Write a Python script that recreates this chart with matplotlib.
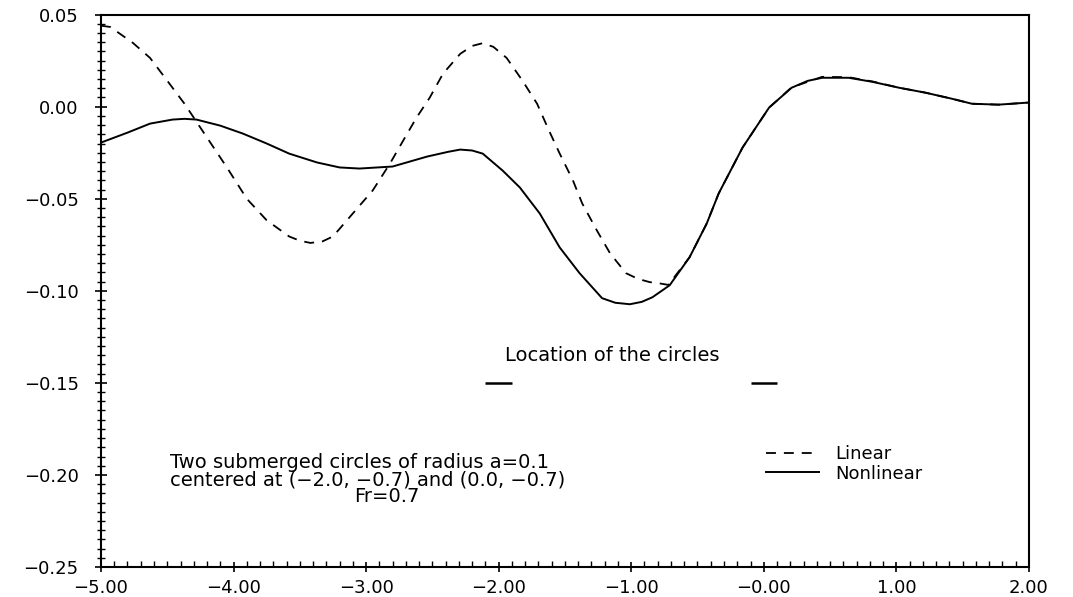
import numpy as np
import matplotlib.pyplot as plt
from matplotlib.ticker import MultipleLocator

# wave elevation over two submerged circles
lin_x = [-5.00, -4.93, -4.76, -4.63, -4.50, -4.37, -4.20, -4.05, -3.90, -3.75,
         -3.58, -3.50, -3.42, -3.33, -3.25, -3.10, -2.95, -2.82, -2.72, -2.62,
         -2.52, -2.42, -2.29, -2.20, -2.12, -2.04, -1.94, -1.82, -1.71, -1.62,
         -1.54, -1.44, -1.37, -1.26, -1.16, -1.04, -0.95, -0.86, -0.80, -0.72,
         -0.56, -0.43, -0.34, -0.16, 0.04, 0.21, 0.44, 0.64, 0.82, 1.02,
         1.22, 1.42, 1.57, 1.77, 1.99]
lin_y = [0.0440, 0.0433, 0.0347, 0.0265, 0.0141, 0.0016, -0.0168, -0.0330, -0.0500, -0.0617,
         -0.0705, -0.0728, -0.0740, -0.0732, -0.0705, -0.0580, -0.0455, -0.0309, -0.0184, -0.0060,
         0.0049, 0.0179, 0.0287, 0.0330, 0.0345, 0.0325, 0.0265, 0.0141, 0.0016, -0.0130,
         -0.0254, -0.0400, -0.0525, -0.0671, -0.0796, -0.0904, -0.0935, -0.0953, -0.0958, -0.0968,
         -0.0818, -0.0634, -0.0471, -0.0222, -0.0005, 0.0105, 0.0162, 0.0160, 0.0137, 0.0103,
         0.0076, 0.0043, 0.0016, 0.0011, 0.0022]

nl_x = [-5.00, -4.80, -4.63, -4.46, -4.37, -4.28, -4.10, -3.93, -3.75, -3.58,
        -3.37, -3.20, -3.05, -2.80, -2.54, -2.38, -2.29, -2.20, -2.12, -1.97,
        -1.84, -1.69, -1.54, -1.39, -1.22, -1.12, -1.01, -0.92, -0.84, -0.71,
        -0.56, -0.43, -0.34, -0.16, 0.04, 0.21, 0.33, 0.44, 0.64, 0.82,
        1.02, 1.22, 1.42, 1.57, 1.77, 1.99]
nl_y = [-0.0195, -0.0141, -0.0092, -0.0070, -0.0066, -0.0070, -0.0103, -0.0146, -0.0200, -0.0255,
        -0.0303, -0.0330, -0.0336, -0.0325, -0.0271, -0.0245, -0.0233, -0.0238, -0.0255, -0.0347,
        -0.0439, -0.0580, -0.0764, -0.0904, -0.1040, -0.1065, -0.1073, -0.1060, -0.1035, -0.0970,
        -0.0818, -0.0634, -0.0471, -0.0222, -0.0005, 0.0103, 0.0140, 0.0157, 0.0157, 0.0135,
        0.0103, 0.0076, 0.0043, 0.0016, 0.0011, 0.0022]

centers = [-2.0, 0.0]
a = 0.1

xticks = [-5, -4, -3, -2, -1, 0, 1, 2]
xlabels = ['\u22125.00', '\u22124.00', '\u22123.00', '\u22122.00', '\u22121.00', '\u22120.00', '1.00', '2.00']
yticks = [0.05, 0.0, -0.05, -0.10, -0.15, -0.20, -0.25]
ylabels = ['0.05', '0.00', '\u22120.05', '\u22120.10', '\u22120.15', '\u22120.20', '\u22120.25']

fig = plt.figure(figsize=(10.73, 5.97), dpi=100)
ax = fig.add_axes([0.0941, 0.0503, 0.8648, 0.9252])

ax.plot(lin_x, lin_y, color='black', lw=1.3, dashes=(5.5, 4.4), label='Linear')
ax.plot(nl_x, nl_y, color='black', lw=1.4, label='Nonlinear')

for c in centers:
    ax.hlines(-0.15, c - a, c + a, color='black', lw=1.8)

ax.text(-1.953, -0.135, 'Location of the circles', fontsize=14, va='center', ha='left')
ax.text(-4.48, -0.1935, 'Two submerged circles of radius a=0.1', fontsize=14, va='center', ha='left')
ax.text(-4.48, -0.2027, 'centered at (\u22122.0, \u22120.7) and (0.0, \u22120.7)', fontsize=14, va='center', ha='left')
ax.text(-2.84, -0.2119, 'Fr=0.7', fontsize=14, va='center', ha='center')

ax.legend(loc='upper left', bbox_to_anchor=(0.717, 0.221), frameon=False, fontsize=13,
          handlelength=2.9, handletextpad=0.9, labelspacing=0.1, borderpad=0, borderaxespad=0)

ax.set_xlim(-5, 2)
ax.set_ylim(-0.25, 0.05)
ax.set_xticks(xticks)
ax.set_xticklabels(xlabels)
ax.set_yticks(yticks)
ax.set_yticklabels(ylabels)
ax.xaxis.set_minor_locator(MultipleLocator(0.1))
ax.yaxis.set_minor_locator(MultipleLocator(0.005))

ax.tick_params(axis='x', which='major', direction='inout', length=7, width=1.2, labelsize=13, pad=5)
ax.tick_params(axis='x', which='minor', direction='in', length=4, width=1.0)
ax.tick_params(axis='y', which='major', direction='inout', length=8, width=1.2, labelsize=13, pad=12)
ax.tick_params(axis='y', which='minor', direction='inout', length=6, width=1.0)

for s in ax.spines.values():
    s.set_linewidth(1.5)

plt.savefig('out.png', dpi=100)
